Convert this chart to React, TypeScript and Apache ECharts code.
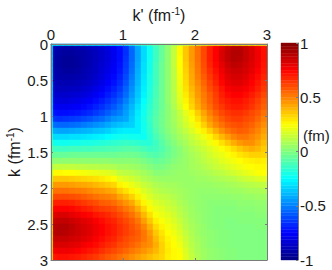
import React, { useEffect, useRef } from "react";
import * as echarts from "echarts";

const X_TICK_INTERVAL = 1;
const Y_TICK_INTERVAL = 0.5;
const AXIS_MAX = 3;
const CELL_COUNT = 36;
const CELL_SIZE = AXIS_MAX / CELL_COUNT;
const EDGE_SIZE = 0.022;
const X_TITLE = "{a|k' (fm}{s|-1}{a|)}";
const Y_TITLE = "{a|k (fm}{s|-1}{a|)}";
const COLORBAR_TITLE = "(fm)";

// Upper triangle of the symmetric surface, in hundredths of a fm; row i starts at column i.
const V_ROW_00 = [-88, -91, -92, -92, -91, -90, -88, -86, -84, -81, -77, -72, -65, -54, -42, -32, -22, -13, -5, 3, 13, 26, 36, 45, 53, 61, 69, 75, 81, 86, 89, 89, 86, 82, 77, 71];
const V_ROW_01 = [-93, -94, -94, -93, -92, -90, -88, -85, -82, -78, -73, -66, -55, -43, -32, -22, -13, -5, 3, 13, 26, 36, 45, 53, 61, 69, 75, 82, 87, 90, 90, 86, 82, 78, 72];
const V_ROW_02 = [-95, -95, -94, -92, -90, -88, -85, -82, -78, -73, -65, -55, -43, -32, -22, -13, -5, 3, 13, 25, 36, 45, 53, 61, 69, 75, 82, 87, 90, 89, 86, 82, 78, 72];
const V_ROW_03 = [-95, -94, -92, -90, -87, -84, -81, -77, -72, -64, -54, -42, -31, -21, -12, -4, 3, 13, 25, 35, 44, 52, 60, 68, 74, 80, 85, 88, 87, 84, 81, 77, 71];
const V_ROW_04 = [-93, -91, -89, -87, -83, -80, -76, -71, -63, -53, -41, -31, -21, -12, -4, 3, 12, 24, 34, 43, 51, 59, 66, 72, 78, 83, 85, 85, 83, 80, 75, 70];
const V_ROW_05 = [-90, -88, -85, -82, -78, -74, -69, -61, -51, -40, -30, -20, -12, -4, 3, 12, 23, 33, 42, 50, 57, 64, 70, 76, 81, 83, 83, 81, 77, 73, 68];
const V_ROW_06 = [-86, -83, -80, -76, -72, -67, -59, -49, -39, -29, -20, -12, -4, 3, 11, 22, 32, 41, 48, 55, 62, 68, 74, 79, 81, 81, 79, 75, 71, 66];
const V_ROW_07 = [-80, -77, -73, -69, -64, -56, -47, -37, -28, -19, -11, -4, 3, 11, 21, 31, 39, 46, 53, 60, 65, 71, 76, 78, 78, 76, 73, 69, 64];
const V_ROW_08 = [-74, -70, -66, -61, -54, -45, -36, -27, -18, -11, -4, 3, 10, 20, 29, 37, 45, 51, 57, 63, 69, 73, 75, 75, 73, 70, 66, 61];
const V_ROW_09 = [-66, -62, -57, -50, -42, -34, -25, -17, -10, -4, 3, 10, 19, 27, 35, 43, 50, 56, 62, 67, 70, 72, 72, 70, 67, 63, 58];
const V_ROW_10 = [-58, -53, -46, -39, -31, -23, -16, -10, -4, 2, 9, 17, 25, 33, 41, 48, 54, 60, 64, 68, 70, 70, 68, 65, 61, 56];
const V_ROW_11 = [-50, -44, -37, -29, -22, -15, -9, -3, 2, 7, 13, 20, 27, 35, 43, 50, 56, 61, 64, 66, 66, 64, 61, 58, 53];
const V_ROW_12 = [-42, -35, -28, -21, -14, -8, -3, 2, 7, 12, 18, 24, 31, 39, 46, 52, 57, 61, 63, 63, 61, 59, 55, 50];
const V_ROW_13 = [-34, -28, -22, -15, -8, -3, 2, 6, 11, 16, 21, 27, 34, 42, 48, 53, 57, 59, 60, 58, 56, 52, 47];
const V_ROW_14 = [-28, -22, -16, -9, -4, 1, 5, 9, 13, 18, 23, 28, 34, 41, 47, 52, 55, 57, 56, 53, 49, 44];
const V_ROW_15 = [-23, -17, -11, -6, -1, 3, 7, 10, 14, 18, 22, 27, 33, 39, 44, 49, 52, 52, 49, 46, 41];
const V_ROW_16 = [-17, -13, -8, -3, 1, 5, 8, 12, 15, 18, 22, 26, 31, 36, 41, 45, 47, 47, 43, 38];
const V_ROW_17 = [-12, -9, -5, -1, 2, 6, 9, 12, 15, 18, 21, 24, 28, 32, 36, 39, 41, 39, 35];
const V_ROW_18 = [-7, -4, -1, 2, 5, 8, 10, 13, 16, 19, 21, 24, 27, 30, 32, 34, 34, 33];
const V_ROW_19 = [-2, 1, 3, 5, 7, 9, 12, 14, 16, 19, 21, 23, 25, 27, 28, 29, 28];
const V_ROW_20 = [3, 4, 5, 7, 8, 10, 12, 14, 16, 18, 20, 22, 24, 25, 26, 26];
const V_ROW_21 = [5, 5, 6, 7, 8, 9, 11, 12, 14, 16, 18, 20, 22, 24, 25];
const V_ROW_22 = [5, 5, 6, 6, 7, 8, 9, 10, 11, 13, 15, 16, 18, 19];
const V_ROW_23 = [5, 5, 5, 5, 6, 6, 7, 8, 9, 10, 11, 12, 13];
const V_ROW_24 = [4, 4, 4, 4, 5, 5, 6, 6, 7, 8, 8, 9];
const V_ROW_25 = [3, 3, 3, 3, 3, 4, 4, 5, 5, 6, 6];
const V_ROW_26 = [2, 2, 2, 2, 2, 3, 3, 3, 4, 4];
const V_ROW_27 = [1, 1, 1, 1, 2, 2, 2, 3, 3];
const V_ROW_28 = [1, 1, 1, 1, 1, 1, 2, 2];
const V_ROW_29 = [0, 0, 1, 1, 1, 1, 1];
const V_ROW_30 = [0, 0, 0, 0, 1, 1];
const V_ROW_31 = [0, 0, 0, 0, 0];
const V_ROW_32 = [0, 0, 0, 0];
const V_ROW_33 = [0, 0, 0];
const V_ROW_34 = [0, 0];
const V_ROW_35 = [0];
const V_ROWS = [
  V_ROW_00, V_ROW_01, V_ROW_02, V_ROW_03, V_ROW_04, V_ROW_05, V_ROW_06, V_ROW_07, V_ROW_08,
  V_ROW_09, V_ROW_10, V_ROW_11, V_ROW_12, V_ROW_13, V_ROW_14, V_ROW_15, V_ROW_16, V_ROW_17,
  V_ROW_18, V_ROW_19, V_ROW_20, V_ROW_21, V_ROW_22, V_ROW_23, V_ROW_24, V_ROW_25, V_ROW_26,
  V_ROW_27, V_ROW_28, V_ROW_29, V_ROW_30, V_ROW_31, V_ROW_32, V_ROW_33, V_ROW_34, V_ROW_35,
];
// The thin bright strip along k = 0 and k' = 0.
const EDGE_VALUES = [-26, -26, -26, -26, -26, -25, -25, -25, -24, -24, -23, -22, -20, -18, -15, -12, -9, -6, -3, 1, 4, 8, 11, 14, 16, 18, 20, 21, 23, 24, 25, 25, 24, 23, 22, 20];
const JET = ["#000080", "#0000ff", "#0080ff", "#00ffff", "#80ff80", "#ffff00", "#ff8000", "#ff0000", "#800000"];
const COLORBAR_LEVEL_COUNT = 64;

const cellData: number[][] = [];
for (let i = 0; i < V_ROWS.length; i++) {
  for (let j = 0; j < V_ROWS.length; j++) {
    const v = i <= j ? V_ROWS[i][j - i] : V_ROWS[j][i - j];
    cellData.push([j * CELL_SIZE, (j + 1) * CELL_SIZE, i * CELL_SIZE, (i + 1) * CELL_SIZE, v / 100]);
  }
}
const edgeData: number[][] = [];
EDGE_VALUES.forEach((v, i) => {
  edgeData.push([i * CELL_SIZE, (i + 1) * CELL_SIZE, 0, EDGE_SIZE, v / 100]);
  edgeData.push([0, EDGE_SIZE, i * CELL_SIZE, (i + 1) * CELL_SIZE, v / 100]);
});
const barData: number[][] = [];
for (let n = 0; n < COLORBAR_LEVEL_COUNT; n++) {
  const step = 2 / COLORBAR_LEVEL_COUNT;
  barData.push([0, 1, -1 + n * step, -1 + (n + 1) * step, -1 + (n + 0.5) * step]);
}

const renderCell = (_: any, api: any) => {
  const a = api.coord([api.value(0), api.value(2)]);
  const b = api.coord([api.value(1), api.value(3)]);
  const color = api.visual("color");
  return {
    type: "rect",
    shape: {
      x: Math.min(a[0], b[0]),
      y: Math.min(a[1], b[1]),
      width: Math.abs(b[0] - a[0]),
      height: Math.abs(b[1] - a[1]),
    },
    style: { fill: color, stroke: color, lineWidth: 0.4 },
  };
};

const FRAME = "#7a7a7a";
const TEXT = "#1a1a1a";
const FONT = "'Liberation Sans', Arial, sans-serif";
const frameLine = { show: true, onZero: false, lineStyle: { color: FRAME, width: 1 } };
const ticks = { show: true, inside: true, length: 2, lineStyle: { color: FRAME } };
const labelStyle = { color: TEXT, fontFamily: FONT, fontSize: 15 };
const rich = {
  a: { fontFamily: FONT, fontSize: 16, fill: TEXT, color: TEXT },
  s: { fontFamily: FONT, fontSize: 10, fill: TEXT, color: TEXT, verticalAlign: "top", padding: [0, 0, 7, 0] },
};

export default function App() {
  const ref = useRef<HTMLDivElement>(null);
  useEffect(() => {
    const chart = echarts.init(ref.current!, null, { renderer: "svg", width: 332, height: 270 });
    const cellSeries = (name: string, data: number[][], axis: number, z: number) => ({
      type: "custom",
      name,
      coordinateSystem: "cartesian2d",
      xAxisIndex: axis,
      yAxisIndex: axis,
      z,
      silent: true,
      encode: { x: [0, 1], y: [2, 3] },
      renderItem: renderCell,
      data,
    });
    chart.setOption({
      animation: false,
      backgroundColor: "#ffffff",
      grid: [
        { left: 51, top: 44, width: 216, height: 216 },
        { left: 281, top: 43, width: 17, height: 217 },
      ],
      visualMap: {
        show: false,
        type: "continuous",
        min: -1,
        max: 1,
        dimension: 4,
        seriesIndex: [0, 1, 2],
        inRange: { color: JET },
      },
      xAxis: [
        {
          type: "value", gridIndex: 0, position: "top", min: 0, max: AXIS_MAX, interval: X_TICK_INTERVAL, z: 5,
          axisLine: frameLine, axisTick: ticks, splitLine: { show: false },
          axisLabel: { ...labelStyle, margin: 2 },
        },
        {
          type: "value", gridIndex: 0, position: "bottom", min: 0, max: AXIS_MAX, interval: X_TICK_INTERVAL, z: 5,
          axisLine: frameLine, axisTick: ticks, splitLine: { show: false }, axisLabel: { show: false },
        },
        {
          type: "value", gridIndex: 1, min: 0, max: 1, show: false, splitLine: { show: false },
        },
      ],
      yAxis: [
        {
          type: "value", gridIndex: 0, position: "left", inverse: true, min: 0, max: AXIS_MAX, interval: Y_TICK_INTERVAL, z: 5,
          axisLine: frameLine, axisTick: ticks, splitLine: { show: false },
          axisLabel: { ...labelStyle, margin: 3 },
        },
        {
          type: "value", gridIndex: 0, position: "right", inverse: true, min: 0, max: AXIS_MAX, interval: Y_TICK_INTERVAL, z: 5,
          axisLine: frameLine, axisTick: ticks, splitLine: { show: false }, axisLabel: { show: false },
        },
        {
          type: "value", gridIndex: 1, position: "right", min: -1, max: 1, interval: 0.5, z: 5,
          axisLine: frameLine, axisTick: ticks, splitLine: { show: false },
          axisLabel: { ...labelStyle, margin: 2 },
        },
      ],
      series: [
        { ...cellSeries("V(k,k')", cellData, 0, 2), xAxisIndex: 0, yAxisIndex: 0 },
        { ...cellSeries("edge", edgeData, 0, 3), xAxisIndex: 0, yAxisIndex: 0 },
        { ...cellSeries("colorbar", barData, 2, 2), xAxisIndex: 2, yAxisIndex: 2 },
      ],
      graphic: [
        { type: "text", x: 159, y: 15, style: { text: X_TITLE, rich, align: "center", verticalAlign: "middle", fill: TEXT, font: `16px ${FONT}` } },
        { type: "text", x: 14, y: 152, rotation: Math.PI / 2, style: { text: Y_TITLE, rich, align: "center", verticalAlign: "middle", fill: TEXT, font: `16px ${FONT}` } },
        { type: "text", x: 303, y: 135, style: { text: COLORBAR_TITLE, align: "left", verticalAlign: "middle", fill: TEXT, font: `15px ${FONT}` } },
      ],
    });
    return () => chart.dispose();
  }, []);
  return <div ref={ref} style={{ position: "fixed", left: 0, top: 0, width: 332, height: 270 }} />;
}
